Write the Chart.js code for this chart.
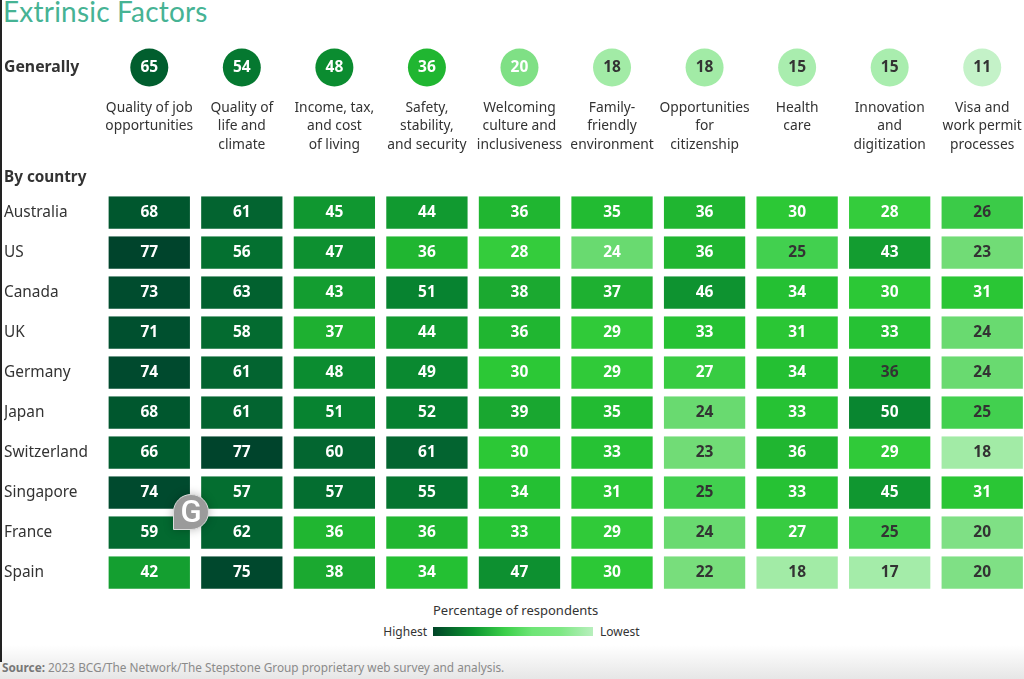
<!DOCTYPE html>
<html>
<head>
<meta charset="utf-8">
<title>Extrinsic Factors</title>
<script src="https://cdn.jsdelivr.net/npm/chart.js@4"></script>
<style>
  html, body { margin: 0; padding: 0; background: #fff; }
  body { position: relative; width: 1024px; height: 679px; overflow: hidden; font-family: "Noto Sans", sans-serif; color: #333; }
  canvas { position: absolute; left: 0; }
  #generalChart { top: 28px; }
  #countryChart { top: 193px; }
  .txt { position: absolute; white-space: nowrap; line-height: 1; }
  #title { left: 3px; top: -6px; font: 400 28px Lato, sans-serif; letter-spacing: 0.2px; color: #46b394; }
  #byCountry { left: 4px; top: 169px; font-size: 15.3px; font-weight: 700; }
  #legendTitle { left: 433px; top: 604px; font-size: 13px; }
  #legendHigh { right: 597px; top: 626px; font-size: 12px; }
  #legendLow { left: 600px; top: 626px; font-size: 12px; }
  #legendBar { position: absolute; left: 433px; top: 627px; width: 160px; height: 9px;
    background: linear-gradient(to right, #004428 0%, #0c9430 25%, #3ccf4a 45%, #6ee576 62%, #7fe885 80%, #b8efbd 100%); }
  #footFade { position: absolute; left: 0; right: 0; top: 645px; bottom: 0; background: linear-gradient(to bottom, #fff, #e6e6e6); }
  #source { left: 2px; top: 662px; font-size: 11.8px; color: #8a8a8a; }
  #source b { color: #777; }
  #edge { position: absolute; left: 0; top: 0; width: 2px; height: 662px; background: #222; }
  /* floating widget sitting over the grid */
  #badge { position: absolute; left: 173px; top: 494px; width: 36px; height: 36px; box-sizing: border-box; background: #9b9b9b;
    border: 1px solid #ddd; border-radius: 50% 50% 50% 0; box-shadow: 0 0 10px rgba(0,0,0,0.25);
    color: #fff; font: 500 31px/33px Roboto, sans-serif; text-align: center; }
</style>
</head>
<body>
<div id="footFade"></div>
<div id="edge"></div>
<div class="txt" id="title">Extrinsic Factors</div>
<canvas id="generalChart" width="1050" height="140"></canvas>
<div class="txt" id="byCountry">By country</div>
<canvas id="countryChart" width="1040" height="400"></canvas>
<div class="txt" id="legendTitle">Percentage of respondents</div>
<div class="txt" id="legendHigh">Highest</div>
<div id="legendBar"></div>
<div class="txt" id="legendLow">Lowest</div>
<div class="txt" id="source"><b>Source:</b> 2023 BCG/The Network/The Stepstone Group proprietary web survey and analysis.</div>
<div id="badge">G</div>

<script>
const factors = [
  ['Quality of job', 'opportunities'],
  ['Quality of', 'life and', 'climate'],
  ['Income, tax,', 'and cost', 'of living'],
  ['Safety,', 'stability,', 'and security'],
  ['Welcoming', 'culture and', 'inclusiveness'],
  ['Family-', 'friendly', 'environment'],
  ['Opportunities', 'for', 'citizenship'],
  ['Health', 'care'],
  ['Innovation', 'and', 'digitization'],
  ['Visa and', 'work permit', 'processes']
];

const generally = [65, 54, 48, 36, 20, 18, 18, 15, 15, 11];

const countries = ['Australia', 'US', 'Canada', 'UK', 'Germany', 'Japan', 'Switzerland', 'Singapore', 'France', 'Spain'];

const australia = [68, 61, 45, 44, 36, 35, 36, 30, 28, 26];
const us = [77, 56, 47, 36, 28, 24, 36, 25, 43, 23];
const canada = [73, 63, 43, 51, 38, 37, 46, 34, 30, 31];
const uk = [71, 58, 37, 44, 36, 29, 33, 31, 33, 24];
const germany = [74, 61, 48, 49, 30, 29, 27, 34, 36, 24];
const japan = [68, 61, 51, 52, 39, 35, 24, 33, 50, 25];
const switzerland = [66, 77, 60, 61, 30, 33, 23, 36, 29, 18];
const singapore = [74, 57, 57, 55, 34, 31, 25, 33, 45, 31];
const france = [59, 62, 36, 36, 33, 29, 24, 27, 25, 20];
const spain = [42, 75, 38, 34, 47, 30, 22, 18, 17, 20];

const rows = [australia, us, canada, uk, germany, japan, switzerland, singapore, france, spain];

// colour ramp, percentage -> rgb
const ramp = [
  [11, [196, 242, 200]], [15, [169, 237, 174]], [18, [162, 235, 166]], [20, [127, 224, 133]],
  [22, [120, 222, 124]], [24, [105, 218, 112]], [25, [66, 208, 79]], [26, [59, 203, 72]],
  [28, [52, 204, 60]], [30, [44, 200, 54]], [34, [36, 192, 51]], [36, [32, 182, 49]],
  [38, [27, 169, 48]], [44, [17, 154, 48]], [48, [11, 140, 48]], [52, [6, 128, 48]],
  [56, [4, 112, 48]], [61, [3, 100, 48]], [66, [0, 92, 46]], [71, [0, 80, 47]], [77, [0, 68, 44]]
];

function shade(v) {
  for (let i = 1; i < ramp.length; i++) {
    if (v <= ramp[i][0]) {
      const t = (v - ramp[i - 1][0]) / (ramp[i][0] - ramp[i - 1][0]);
      const c = ramp[i][1].map((n, k) => Math.round(ramp[i - 1][1][k] + (n - ramp[i - 1][1][k]) * t));
      return `rgb(${c[0]},${c[1]},${c[2]})`;
    }
  }
  return 'rgb(0,68,44)';
}

const darkText = '#333333';

// cells whose label colour doesn't follow the value rule
function cellTextColor(r, c) {
  const v = rows[r][c];
  if (countries[r] === 'US' && c === 5) return '#ffffff';
  if (countries[r] === 'Germany' && c === 8) return darkText;
  return v <= 26 ? darkText : '#ffffff';
}

Chart.defaults.font.family = '"Noto Sans", sans-serif';
Chart.defaults.color = darkText;
Chart.defaults.animation = false;
Chart.defaults.responsive = false;
Chart.defaults.plugins.legend.display = false;
Chart.defaults.plugins.tooltip.enabled = false;

const axisWidth = 99;

// tick labels would otherwise pull the plot area in from the canvas edges
function noEdgePadding(scale) {
  scale.paddingTop = scale.paddingBottom = scale.paddingLeft = scale.paddingRight = 0;
}

// writes the number in the middle of every mark
const markLabels = {
  id: 'markLabels',
  afterDatasetsDraw(chart) {
    const ctx = chart.ctx;
    ctx.save();
    ctx.font = 'bold 15.5px "Noto Sans", sans-serif';
    ctx.textAlign = 'center';
    ctx.textBaseline = 'middle';
    chart.data.datasets.forEach((ds, r) => {
      chart.getDatasetMeta(r).data.forEach((el, c) => {
        const p = el.getCenterPoint ? el.getCenterPoint() : el;
        ctx.fillStyle = ds.textColor(c);
        ctx.fillText(ds.values[c], p.x, p.y);
      });
    });
    ctx.restore();
  }
};

// the point radius forces about 20px of layout padding on this chart
new Chart(document.getElementById('generalChart'), {
  type: 'line',
  data: {
    labels: factors,
    datasets: [{
      data: factors.map(() => 'Generally'),
      values: generally,
      textColor: c => generally[c] >= 20 ? '#ffffff' : darkText,
      showLine: false,
      clip: false,
      pointRadius: 19,
      pointBorderWidth: 0,
      pointBackgroundColor: generally.map(shade)
    }]
  },
  options: {
    layout: { padding: { left: 4, right: 21.5 } },
    scales: {
      x: {
        offset: true,
        afterFit(scale) { noEdgePadding(scale); scale.height = 80; },
        grid: { display: false },
        border: { display: false },
        ticks: { autoSkip: false, maxRotation: 0, padding: 3, font: { size: 13.8, lineHeight: 1.33 } }
      },
      y: {
        type: 'category',
        labels: ['Generally'],
        offset: true,
        afterFit(scale) { noEdgePadding(scale); scale.width = axisWidth; },
        grid: { display: false },
        border: { display: false },
        ticks: { crossAlign: 'far', padding: 0, font: { size: 15.8, weight: 'bold' } }
      }
    }
  },
  plugins: [markLabels]
});

// floating bars are one row tall in row units, so every cell lands on its row
const cellHalf = 0.42;

new Chart(document.getElementById('countryChart'), {
  type: 'bar',
  data: {
    labels: factors,
    datasets: rows.map((row, r) => ({
      data: row.map(() => [r - cellHalf, r + cellHalf]),
      values: row,
      textColor: c => cellTextColor(r, c),
      backgroundColor: row.map(shade),
      borderColor: 'rgba(255,255,255,0.3)',
      borderWidth: 1,
      grouped: false,
      barPercentage: 0.9,
      categoryPercentage: 1
    }))
  },
  options: {
    layout: { padding: { left: 4, right: 11.5 } },
    scales: {
      x: { display: false },
      y: {
        min: -0.5,
        max: 9.5,
        reverse: true,
        afterFit(scale) { noEdgePadding(scale); scale.width = axisWidth; },
        afterBuildTicks(scale) { scale.ticks = countries.map((c, i) => ({ value: i })); },
        grid: { display: false },
        border: { display: false },
        ticks: {
          crossAlign: 'far',
          padding: 0,
          font: { size: 15.4 },
          callback: v => countries[v]
        }
      }
    }
  },
  plugins: [markLabels]
});
</script>
</body>
</html>
